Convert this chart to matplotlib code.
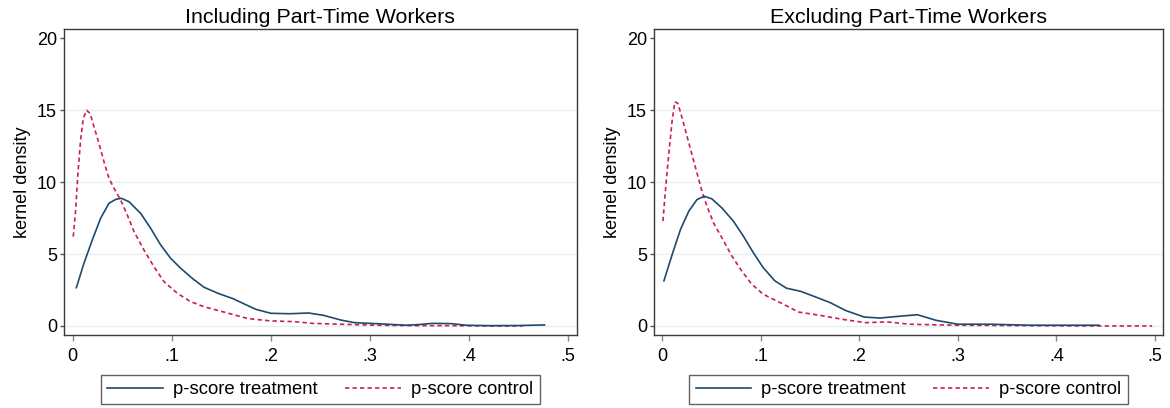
import matplotlib
matplotlib.use("Agg")
import matplotlib.pyplot as plt

plt.rcParams['font.family'] = ['Liberation Sans', 'DejaVu Sans']

titles = ["Including Part-Time Workers", "Excluding Part-Time Workers"]
ylabel = "kernel density"
legend_labels = ["p-score treatment", "p-score control"]
xticks = [0, 0.1, 0.2, 0.3, 0.4, 0.5]
xticklabels = ["0", ".1", ".2", ".3", ".4", ".5"]
yticks = [0, 5, 10, 15, 20]

# Left panel: including part-time workers
inc_treat_x = [0.0037, 0.0114, 0.0198, 0.0282, 0.0366, 0.0434, 0.0491, 0.0568, 0.0686,
               0.0787, 0.0888, 0.0989, 0.109, 0.1207, 0.1325, 0.147, 0.162, 0.174, 0.185,
               0.200, 0.219, 0.238, 0.253, 0.270, 0.284, 0.306, 0.337, 0.350, 0.363,
               0.382, 0.397, 0.420, 0.450, 0.476]
inc_treat_y = [2.66, 4.36, 5.98, 7.49, 8.53, 8.80, 8.88, 8.64, 7.83,
               6.79, 5.63, 4.70, 4.01, 3.31, 2.69, 2.26, 1.89, 1.50, 1.15,
               0.88, 0.85, 0.90, 0.74, 0.42, 0.23, 0.16, 0.05, 0.10, 0.18,
               0.16, 0.05, 0.02, 0.03, 0.07]
inc_ctrl_x = [0.0006, 0.003, 0.0053, 0.008, 0.0107, 0.0141, 0.0175, 0.0215, 0.0265, 0.0316,
              0.0366, 0.0417, 0.0484, 0.0551, 0.0619, 0.0719, 0.082, 0.0921, 0.1056, 0.119,
              0.1325, 0.155, 0.177, 0.200, 0.223, 0.242, 0.268, 0.306, 0.344, 0.382,
              0.420, 0.454]
inc_ctrl_y = [6.21, 8.06, 10.61, 12.93, 14.44, 15.00, 14.78, 13.86, 12.70, 11.42,
              10.27, 9.57, 8.76, 7.72, 6.56, 5.28, 4.12, 3.08, 2.27, 1.69,
              1.34, 0.92, 0.51, 0.35, 0.30, 0.18, 0.12, 0.05, 0.02, 0.02,
              0.0, 0.0]

# Right panel: excluding part-time workers
exc_treat_x = [0.002, 0.0104, 0.0188, 0.0272, 0.0355, 0.0429, 0.0506, 0.0607, 0.0724,
               0.0825, 0.0926, 0.1026, 0.1144, 0.1261, 0.141, 0.156, 0.171, 0.186,
               0.205, 0.221, 0.240, 0.259, 0.278, 0.300, 0.334, 0.372, 0.410, 0.443]
exc_treat_y = [3.14, 4.98, 6.71, 7.98, 8.79, 9.02, 8.84, 8.21, 7.29,
               6.25, 5.10, 4.06, 3.14, 2.63, 2.40, 2.01, 1.61, 1.08,
               0.62, 0.55, 0.67, 0.78, 0.39, 0.12, 0.12, 0.05, 0.05, 0.05]
exc_ctrl_x = [0.001, 0.003, 0.0054, 0.008, 0.0104, 0.0131, 0.0161, 0.0205, 0.0255, 0.0305,
              0.0355, 0.0406, 0.0456, 0.0523, 0.0607, 0.0708, 0.0808, 0.0909, 0.1026,
              0.116, 0.1295, 0.138, 0.160, 0.183, 0.206, 0.228, 0.251, 0.297, 0.372,
              0.430, 0.497]
exc_ctrl_y = [7.29, 9.02, 10.87, 12.71, 14.33, 15.59, 15.48, 14.44, 13.17, 11.90,
              10.64, 9.36, 8.33, 7.17, 6.14, 4.87, 3.83, 2.91, 2.21,
              1.75, 1.29, 0.97, 0.74, 0.46, 0.23, 0.28, 0.12, 0.05, 0.02,
              0.0, 0.0]

panels = [
    (inc_treat_x, inc_treat_y, inc_ctrl_x, inc_ctrl_y),
    (exc_treat_x, exc_treat_y, exc_ctrl_x, exc_ctrl_y),
]

blue = "#1f4a70"
red = "#cc1f4e"
grid_c = "#e6eff1"
frame_c = "#3a3a3a"

fig = plt.figure(figsize=(11.7, 4.08), dpi=100)
positions = [[0.0544, 0.1789, 0.4387, 0.750], [0.5587, 0.1789, 0.4353, 0.750]]
xlims = [(-0.0091, 0.5087), (-0.0084, 0.5080)]

for i, (tx, ty, cx, cy) in enumerate(panels):
    ax = fig.add_axes(positions[i])
    for yv in [0, 5, 10, 15]:
        ax.axhline(yv, color=grid_c, lw=1.0, zorder=0)
    l1, = ax.plot(tx, ty, color=blue, lw=1.2, label=legend_labels[0], zorder=3,
                  solid_joinstyle='round')
    l2, = ax.plot(cx, cy, color=red, lw=1.2, dashes=(2.6, 1.9), label=legend_labels[1],
                  zorder=2)
    ax.set_xlim(*xlims[i])
    ax.set_ylim(-0.63, 20.65)
    ax.set_xticks(xticks)
    ax.set_xticklabels(xticklabels)
    ax.set_yticks(yticks)
    ax.tick_params(axis='x', direction='out', length=4.5, width=1.0, color='#888888',
                   labelsize=13, pad=5, labelcolor='black')
    ax.tick_params(axis='y', direction='out', length=2.8, width=1.0, color='#555555',
                   labelsize=13, pad=2, labelcolor='black')
    for s in ax.spines.values():
        s.set_color(frame_c)
        s.set_linewidth(1.0)
    ax.set_title(titles[i], fontsize=15.4, pad=4)
    ax.set_ylabel(ylabel, fontsize=13, labelpad=4)
    leg = ax.legend(handles=[l1, l2], loc='center', bbox_to_anchor=(0.5, -0.178),
                    ncol=2, fontsize=13.3, frameon=True, fancybox=False,
                    edgecolor=frame_c, handlelength=3.0, handletextpad=0.55,
                    columnspacing=1.5, borderpad=0.35)
    leg.get_frame().set_linewidth(1.0)

fig.savefig("out.png", dpi=100)
